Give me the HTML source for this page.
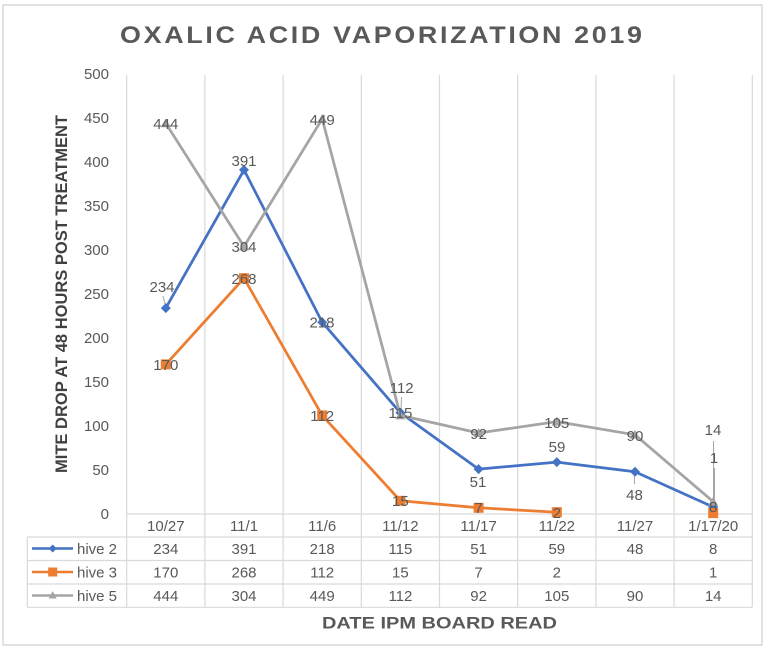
<!DOCTYPE html>
<html>
<head>
<meta charset="utf-8">
<style>
  html,body{margin:0;padding:0;background:#fff;}
  svg{display:block;}
  text{font-family:"Liberation Sans",Arial,sans-serif;}
</style>
</head>
<body>
<svg width="768" height="650" viewBox="0 0 768 650" xmlns="http://www.w3.org/2000/svg">
  <rect x="0" y="0" width="768" height="650" fill="#fff"/>
  <!-- outer border -->
  <rect x="3" y="5" width="759" height="640" fill="none" stroke="#D9D9D9" stroke-width="1.5"/>

  <!-- title -->
  <text transform="translate(381,43) scale(1.12,1)" x="0" y="0" text-anchor="middle" font-size="24" font-weight="bold" fill="#595959" textLength="466" lengthAdjust="spacing">OXALIC ACID VAPORIZATION 2019</text>

  <!-- vertical gridlines -->
  <g stroke="#D9D9D9" stroke-width="1.2">
    <line x1="126.7" y1="75" x2="126.7" y2="607"/>
    <line x1="204.9" y1="75" x2="204.9" y2="607"/>
    <line x1="283.1" y1="75" x2="283.1" y2="607"/>
    <line x1="361.3" y1="75" x2="361.3" y2="607"/>
    <line x1="439.5" y1="75" x2="439.5" y2="607"/>
    <line x1="517.7" y1="75" x2="517.7" y2="607"/>
    <line x1="595.9" y1="75" x2="595.9" y2="607"/>
    <line x1="674.1" y1="75" x2="674.1" y2="607"/>
    <line x1="752.3" y1="75" x2="752.3" y2="607"/>
    <!-- table horizontals -->
    <line x1="126.7" y1="514" x2="752.3" y2="514"/>
    <line x1="27.3" y1="537" x2="752.3" y2="537"/>
    <line x1="27.3" y1="560.5" x2="752.3" y2="560.5"/>
    <line x1="27.3" y1="584" x2="752.3" y2="584"/>
    <line x1="27.3" y1="607.3" x2="752.3" y2="607.3"/>
    <line x1="27.3" y1="537" x2="27.3" y2="607.3"/>
  </g>

  <!-- y tick labels -->
  <g font-size="15" fill="#595959" text-anchor="end">
    <text x="109" y="79">500</text>
    <text x="109" y="123">450</text>
    <text x="109" y="167">400</text>
    <text x="109" y="211">350</text>
    <text x="109" y="255">300</text>
    <text x="109" y="299">250</text>
    <text x="109" y="343">200</text>
    <text x="109" y="387">150</text>
    <text x="109" y="431">100</text>
    <text x="109" y="475">50</text>
    <text x="109" y="519">0</text>
  </g>

  <!-- y axis title -->
  <text transform="translate(67,294) rotate(-90)" text-anchor="middle" font-size="17" font-weight="bold" fill="#404040" textLength="358" lengthAdjust="spacingAndGlyphs">MITE DROP AT 48 HOURS POST TREATMENT</text>

  <!-- leader lines -->
  <g stroke="#A5A5A5" stroke-width="1">
    <line x1="163" y1="296" x2="165" y2="304"/>
    <line x1="401.5" y1="397" x2="401" y2="410"/>
    <line x1="634.5" y1="476" x2="634.5" y2="484"/>
    <line x1="713.5" y1="441" x2="713.5" y2="500"/>
    <line x1="714.5" y1="468" x2="714.5" y2="500"/>
  </g>

  <!-- hive 2 (blue) -->
  <polyline fill="none" stroke="#4472C4" stroke-width="2.75" stroke-linejoin="round"
    points="165.8,308.1 244,169.9 322.2,322.2 400.4,412.8 478.6,469.1 556.8,462.1 635,471.8 713.2,507"/>
  <g fill="#4472C4">
    <polygon points="165.8,303.1 170.8,308.1 165.8,313.1 160.8,308.1"/>
    <polygon points="244,164.9 249,169.9 244,174.9 239,169.9"/>
    <polygon points="322.2,317.2 327.2,322.2 322.2,327.2 317.2,322.2"/>
    <polygon points="400.4,407.8 405.4,412.8 400.4,417.8 395.4,412.8"/>
    <polygon points="478.6,464.1 483.6,469.1 478.6,474.1 473.6,469.1"/>
    <polygon points="556.8,457.1 561.8,462.1 556.8,467.1 551.8,462.1"/>
    <polygon points="635,466.8 640,471.8 635,476.8 630,471.8"/>
    <polygon points="713.2,502 718.2,507 713.2,512 708.2,507"/>
  </g>

  <!-- hive 3 (orange) -->
  <polyline fill="none" stroke="#ED7D31" stroke-width="2.75" stroke-linejoin="round"
    points="165.8,364.4 244,278.2 322.2,415.4 400.4,500.8 478.6,507.8 556.8,512.2"/>
  <g fill="#ED7D31">
    <rect x="160.8" y="359.4" width="10" height="10"/>
    <rect x="239" y="273.2" width="10" height="10"/>
    <rect x="317.2" y="410.4" width="10" height="10"/>
    <rect x="395.4" y="495.8" width="10" height="10"/>
    <rect x="473.6" y="502.8" width="10" height="10"/>
    <rect x="551.8" y="507.2" width="10" height="10"/>
    <rect x="708.2" y="508.1" width="10" height="10"/>
  </g>

  <!-- hive 5 (gray) -->
  <polyline fill="none" stroke="#A5A5A5" stroke-width="2.75" stroke-linejoin="round"
    points="165.8,123.3 244,246.5 322.2,118.9 400.4,415.4 478.6,433 556.8,421.6 635,434.8 713.2,501.7"/>
  <g fill="#A5A5A5">
    <polygon points="165.8,118.3 170.8,127.3 160.8,127.3"/>
    <polygon points="244,241.5 249,250.5 239,250.5"/>
    <polygon points="322.2,113.9 327.2,122.9 317.2,122.9"/>
    <polygon points="400.4,410.4 405.4,419.4 395.4,419.4"/>
    <polygon points="478.6,428 483.6,437 473.6,437"/>
    <polygon points="556.8,416.6 561.8,425.6 551.8,425.6"/>
    <polygon points="635,429.8 640,438.8 630,438.8"/>
    <polygon points="713.2,496.7 718.2,505.7 708.2,505.7"/>
  </g>

  <!-- data labels -->
  <g font-size="15" fill="#595959" text-anchor="middle">
    <text x="162" y="292">234</text>
    <text x="244" y="166">391</text>
    <text x="322" y="327.5">218</text>
    <text x="400.4" y="418">115</text>
    <text x="478" y="487">51</text>
    <text x="557" y="452">59</text>
    <text x="634.5" y="500">48</text>
    <text x="713.2" y="512">8</text>

    <text x="165.8" y="370">170</text>
    <text x="244" y="284">268</text>
    <text x="322.2" y="421">112</text>
    <text x="400.4" y="506">15</text>
    <text x="478.6" y="513">7</text>
    <text x="556.8" y="518">2</text>
    <text x="714" y="463">1</text>

    <text x="165.8" y="129">444</text>
    <text x="244" y="252">304</text>
    <text x="322.2" y="125">449</text>
    <text x="401.7" y="393">112</text>
    <text x="478.6" y="439">92</text>
    <text x="556.8" y="428">105</text>
    <text x="635" y="441">90</text>
    <text x="713" y="435">14</text>
  </g>

  <!-- table: categories -->
  <g font-size="15" fill="#595959" text-anchor="middle">
    <text x="165.8" y="531">10/27</text>
    <text x="244" y="531">11/1</text>
    <text x="322.2" y="531">11/6</text>
    <text x="400.4" y="531">11/12</text>
    <text x="478.6" y="531">11/17</text>
    <text x="556.8" y="531">11/22</text>
    <text x="635" y="531">11/27</text>
    <text x="713.2" y="531">1/17/20</text>

    <text x="165.8" y="554">234</text>
    <text x="244" y="554">391</text>
    <text x="322.2" y="554">218</text>
    <text x="400.4" y="554">115</text>
    <text x="478.6" y="554">51</text>
    <text x="556.8" y="554">59</text>
    <text x="635" y="554">48</text>
    <text x="713.2" y="554">8</text>

    <text x="165.8" y="577.5">170</text>
    <text x="244" y="577.5">268</text>
    <text x="322.2" y="577.5">112</text>
    <text x="400.4" y="577.5">15</text>
    <text x="478.6" y="577.5">7</text>
    <text x="556.8" y="577.5">2</text>
    <text x="713.2" y="577.5">1</text>

    <text x="165.8" y="601">444</text>
    <text x="244" y="601">304</text>
    <text x="322.2" y="601">449</text>
    <text x="400.4" y="601">112</text>
    <text x="478.6" y="601">92</text>
    <text x="556.8" y="601">105</text>
    <text x="635" y="601">90</text>
    <text x="713.2" y="601">14</text>
  </g>

  <!-- legend keys -->
  <line x1="32" y1="548.5" x2="73" y2="548.5" stroke="#4472C4" stroke-width="2.5"/>
  <polygon points="52.7,544.5 56.7,548.5 52.7,552.5 48.7,548.5" fill="#4472C4"/>
  <line x1="32" y1="572" x2="73" y2="572" stroke="#ED7D31" stroke-width="2.5"/>
  <rect x="48.2" y="567.5" width="9" height="9" fill="#ED7D31"/>
  <line x1="32" y1="595.5" x2="73" y2="595.5" stroke="#A5A5A5" stroke-width="2.5"/>
  <polygon points="52.7,591 56.7,598.5 48.7,598.5" fill="#A5A5A5"/>
  <g font-size="15" fill="#595959">
    <text x="77" y="554">hive 2</text>
    <text x="77" y="577.5">hive 3</text>
    <text x="77" y="601">hive 5</text>
  </g>

  <!-- x axis title -->
  <text x="439.5" y="628.5" text-anchor="middle" font-size="17" font-weight="bold" fill="#595959" textLength="235" lengthAdjust="spacingAndGlyphs">DATE IPM BOARD READ</text>
</svg>
</body>
</html>
